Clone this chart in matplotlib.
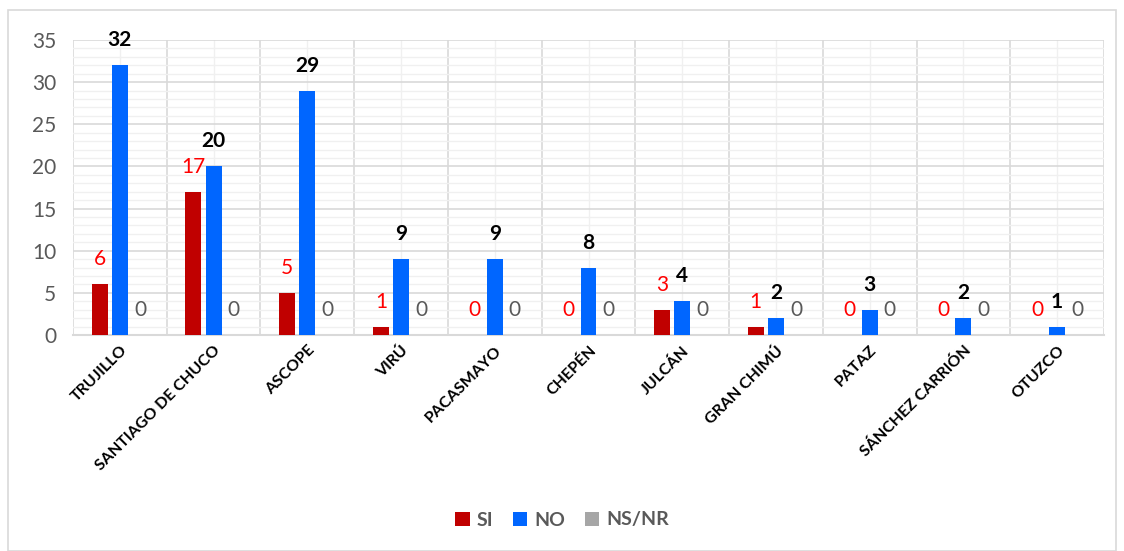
import numpy as np
import matplotlib.pyplot as plt
from matplotlib.patches import Rectangle

plt.rcParams["font.family"] = ["Lato", "DejaVu Sans"]

provincias = ["TRUJILLO", "SANTIAGO DE CHUCO", "ASCOPE", "VIRÚ", "PACASMAYO",
              "CHEPÉN", "JULCÁN", "GRAN CHIMÚ", "PATAZ", "SÁNCHEZ CARRIÓN", "OTUZCO"]
si = [6, 17, 5, 1, 0, 0, 3, 1, 0, 0, 0]
no = [32, 20, 29, 9, 9, 8, 4, 2, 3, 2, 1]
nsnr = [0, 0, 0, 0, 0, 0, 0, 0, 0, 0, 0]

fig = plt.figure(figsize=(11.24, 5.51), dpi=100)
ax = fig.add_axes([73 / 1124, 1 - 335 / 551, 1031 / 1124, 295 / 551])

# chart border
fig.patches.append(Rectangle((8 / 1124, 0), 1108 / 1124, 541 / 551, transform=fig.transFigure,
                             fill=False, edgecolor="#d9d9d9", linewidth=1.2))

x = np.arange(len(provincias))
w = 0.17
off = 0.215
ax.bar(x - off, si, w, color="#c00000", label="SI", zorder=3)
ax.bar(x, no, w, color="#0066ff", label="NO", zorder=3)
ax.bar(x + off, nsnr, w, color="#a6a6a6", label="NS/NR", zorder=3)

for i in range(len(x)):
    ax.annotate(str(si[i]), (x[i] - off, si[i]), xytext=(0, 18), textcoords="offset points",
                ha="center", va="center", color="#ff0000", fontsize=15)
    ax.annotate(str(no[i]), (x[i], no[i]), xytext=(0, 18), textcoords="offset points",
                ha="center", va="center", color="black", fontsize=15, fontweight="bold")
    ax.annotate(str(nsnr[i]), (x[i] + off, nsnr[i]), xytext=(0, 18), textcoords="offset points",
                ha="center", va="center", color="#595959", fontsize=15)

ax.set_xlim(-0.5, len(x) - 0.5)
ax.set_ylim(0, 35)
ax.set_yticks(np.arange(0, 36, 5))
ax.set_yticks(np.arange(0, 36, 1), minor=True)
ax.set_xticks(x)
ax.set_xticks(np.arange(-0.5, len(x), 1), minor=True)
ax.set_xticklabels(provincias, rotation=45, ha="right", rotation_mode="anchor",
                   fontsize=11.5, fontweight="bold")
ax.tick_params(axis="y", labelsize=15, labelcolor="#595959", length=0, pad=12)
ax.tick_params(axis="x", length=0, pad=6)
ax.tick_params(which="minor", length=0)

ax.grid(which="major", axis="y", color="#d9d9d9", linewidth=1.2, zorder=0)
ax.grid(which="minor", axis="y", color="#f0f0f0", linewidth=1.0, zorder=0)
ax.grid(which="minor", axis="x", color="#d9d9d9", linewidth=1.2, zorder=0)
ax.grid(which="major", axis="x", color="#f0f0f0", linewidth=1.0, zorder=0)

for s in ["top", "right", "left"]:
    ax.spines[s].set_visible(False)
ax.spines["bottom"].set_color("#d9d9d9")
ax.spines["bottom"].set_linewidth(1.5)

leg = fig.legend(loc="center", bbox_to_anchor=(0.5, 1 - 520 / 551), ncol=3, frameon=False,
                 handlelength=0.75, handleheight=0.75, handletextpad=0.35, columnspacing=1.0,
                 prop={"size": 14, "weight": "bold"})
for t in leg.get_texts():
    t.set_color("#595959")

fig.savefig("out.png", dpi=100)
